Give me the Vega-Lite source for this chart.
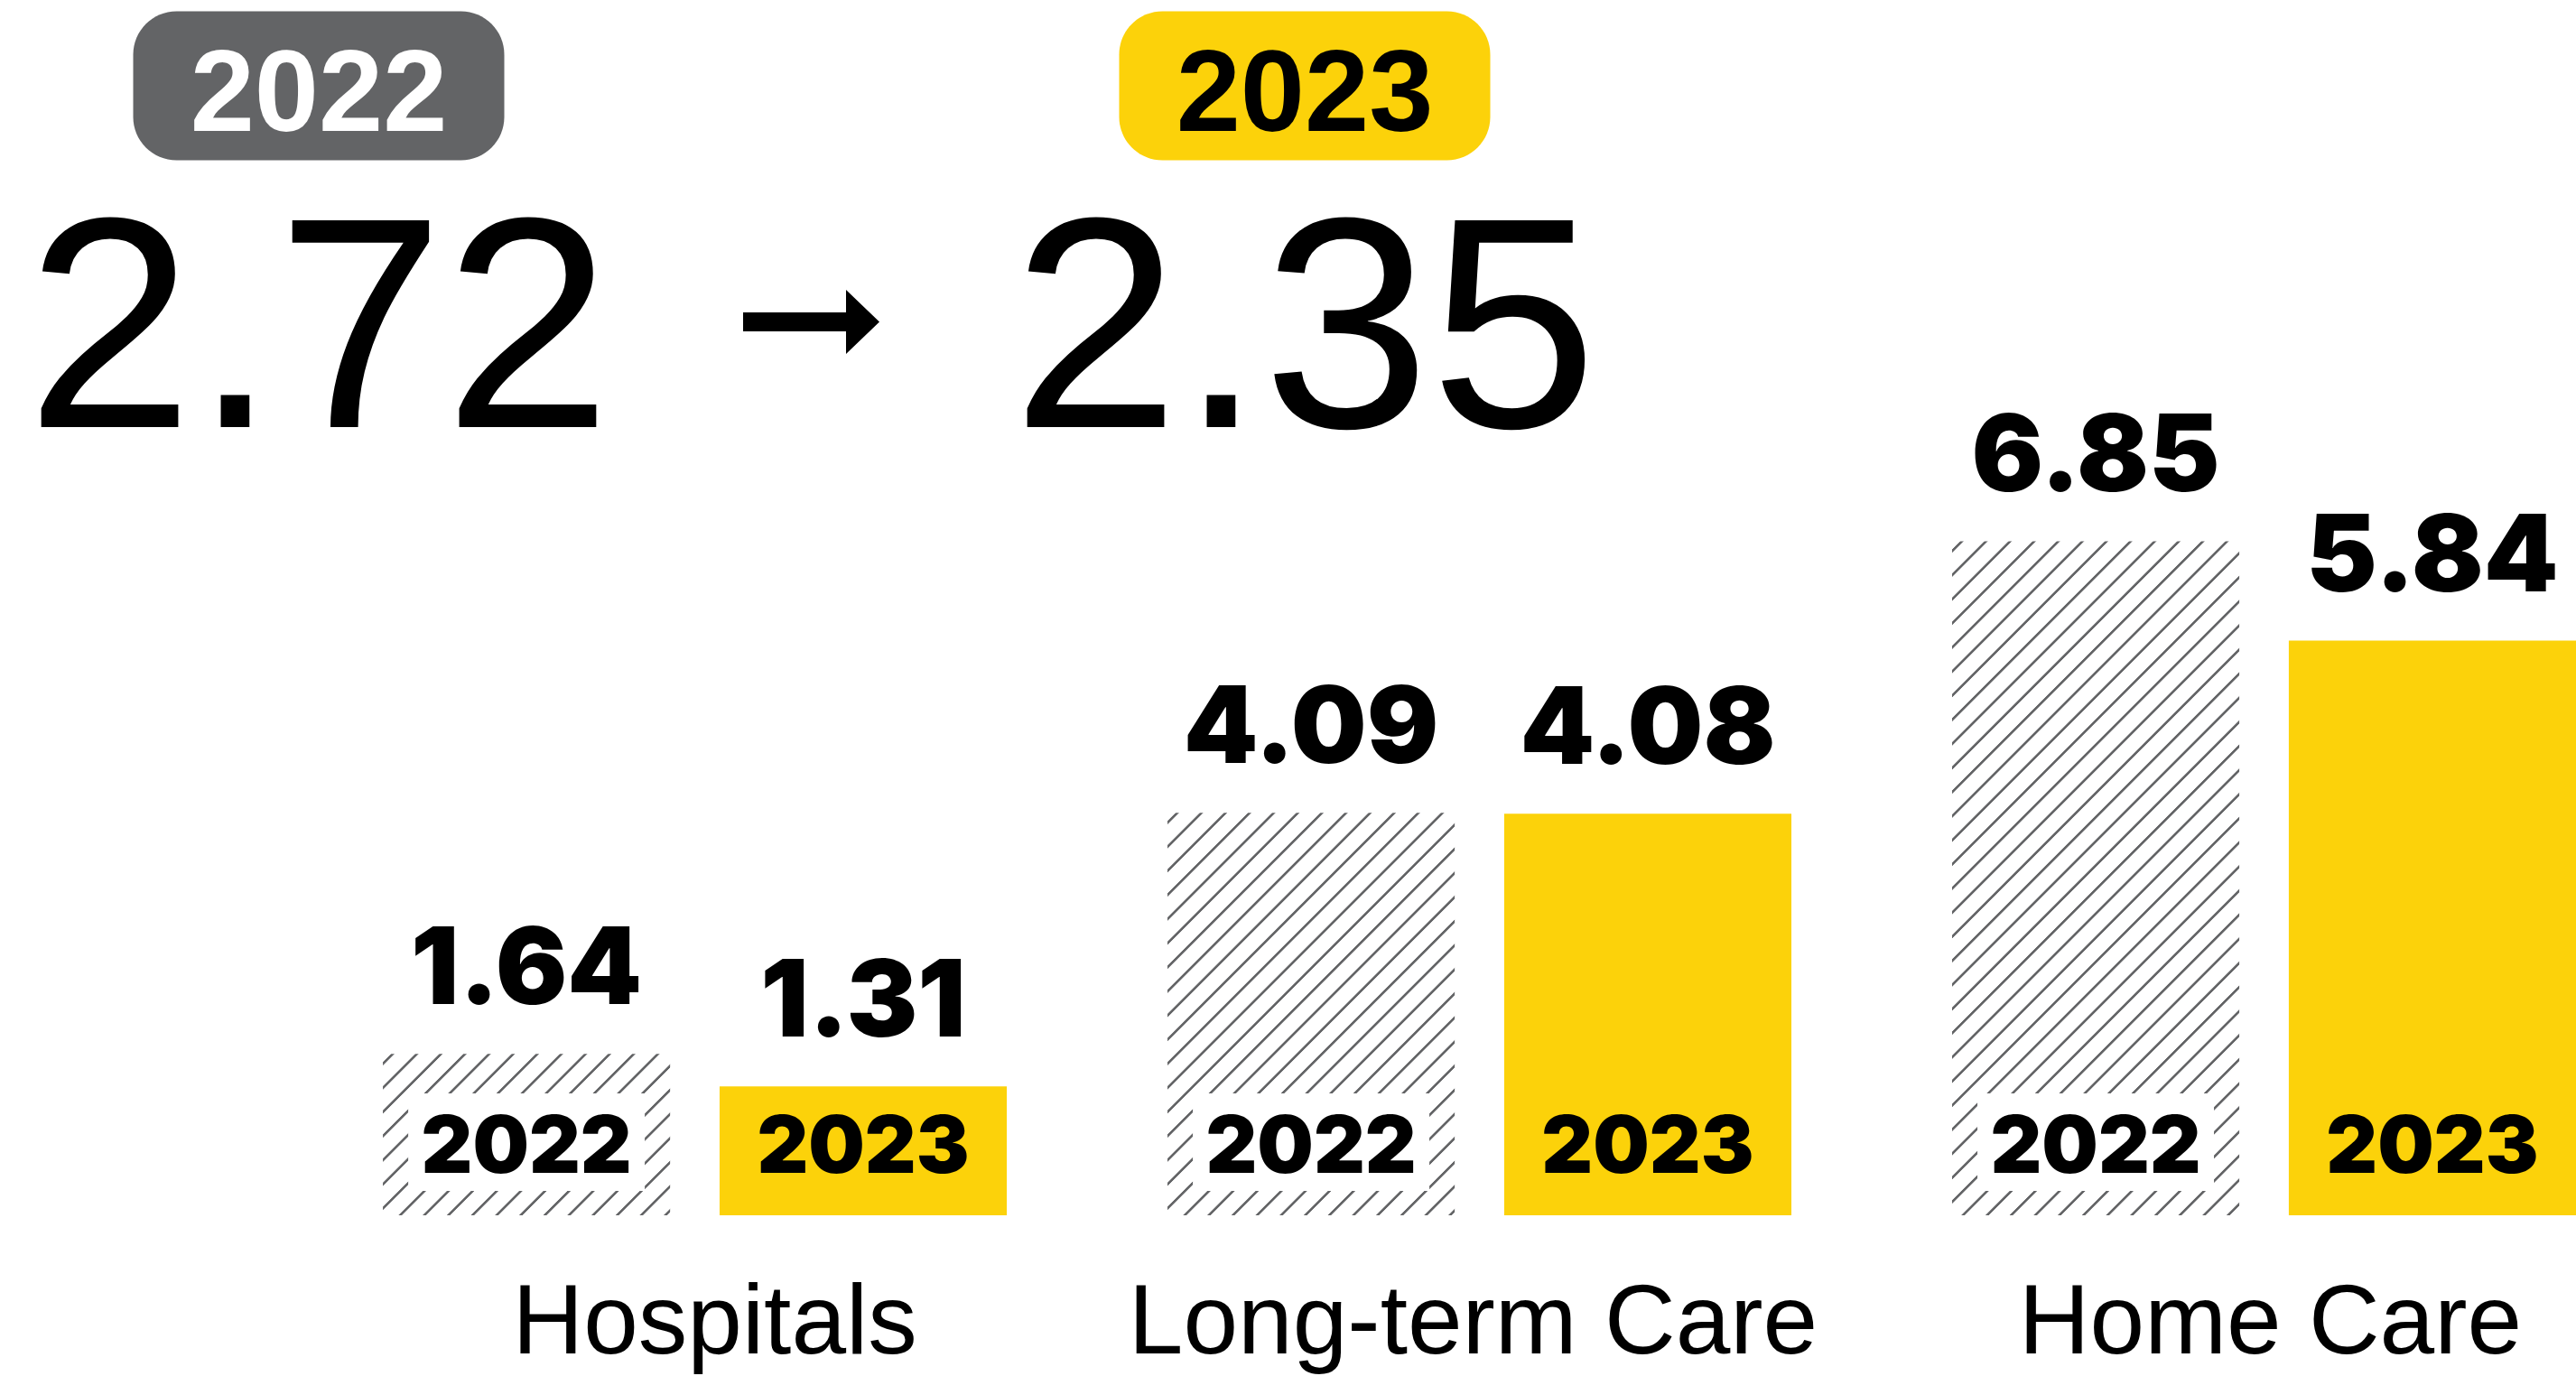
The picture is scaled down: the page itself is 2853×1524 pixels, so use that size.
{
  "$schema": "https://vega.github.io/schema/vega-lite/v6.json",
  "width": 2853,
  "height": 1346,
  "padding": {"left": 0, "top": 0, "right": 0, "bottom": 178},
  "autosize": {"type": "none"},
  "background": "white",
  "config": {"view": {"stroke": null}},
  "datasets": {
    "bars": [
      {"category": "Hospitals", "year": "2022", "value": 1.64},
      {"category": "Hospitals", "year": "2023", "value": 1.31},
      {"category": "Long-term Care", "year": "2022", "value": 4.09},
      {"category": "Long-term Care", "year": "2023", "value": 4.08},
      {"category": "Home Care", "year": "2022", "value": 6.85},
      {"category": "Home Care", "year": "2023", "value": 5.84}
    ],
    "totals": [
      {"year": 2022, "value": 2.72},
      {"year": 2023, "value": 2.35}
    ]
  },
  "resolve": {"scale": {"x": "independent", "y": "independent"}},
  "layer": [
    {
      "data": {"name": "bars"},
      "encoding": {
        "x": {
          "field": "category", "type": "nominal",
          "sort": ["Hospitals", "Long-term Care", "Home Care"],
          "scale": {"paddingInner": 0.2048, "paddingOuter": 0.244, "align": 1},
          "axis": {"title": null, "domain": false, "ticks": false, "grid": false, "labelAngle": 0, "labelFont": "Liberation Sans", "labelFontSize": 109, "labelColor": "#000000", "labelPadding": 66, "labelLimit": 0, "labelOverlap": false,
                   "labelOffset": {"condition": [{"test": "datum.value === 'Hospitals'", "value": 22}, {"test": "datum.value === 'Long-term Care'", "value": -7}], "value": 7}}
        },
        "xOffset": {"field": "year", "type": "nominal", "sort": ["2022", "2023"], "scale": {"paddingInner": 0.147, "paddingOuter": 0}},
        "y": {"field": "value", "type": "quantitative", "scale": {"domain": [0, 12.35], "nice": false, "zero": true}, "axis": null}
      },
      "layer": [
        {
          "transform": [{"filter": "datum.year === '2022' && datum.category === 'Hospitals'"}],
          "mark": {"type": "bar", "fill": {"gradient": "linear", "x1": 0, "y1": 0, "x2": 2.5518, "y2": 1.4338, "stops": [
            {"offset":0.008,"color":"#fff"},{"offset":0.009,"color":"#636466"},{"offset":0.0115,"color":"#636466"},{"offset":0.0125,"color":"#fff"},
            {"offset":0.033,"color":"#fff"},{"offset":0.034,"color":"#636466"},{"offset":0.0365,"color":"#636466"},{"offset":0.0375,"color":"#fff"},
            {"offset":0.058,"color":"#fff"},{"offset":0.059,"color":"#636466"},{"offset":0.0615,"color":"#636466"},{"offset":0.0625,"color":"#fff"},
            {"offset":0.083,"color":"#fff"},{"offset":0.084,"color":"#636466"},{"offset":0.0865,"color":"#636466"},{"offset":0.0875,"color":"#fff"},
            {"offset":0.108,"color":"#fff"},{"offset":0.109,"color":"#636466"},{"offset":0.1115,"color":"#636466"},{"offset":0.1125,"color":"#fff"},
            {"offset":0.133,"color":"#fff"},{"offset":0.134,"color":"#636466"},{"offset":0.1365,"color":"#636466"},{"offset":0.1375,"color":"#fff"},
            {"offset":0.158,"color":"#fff"},{"offset":0.159,"color":"#636466"},{"offset":0.1615,"color":"#636466"},{"offset":0.1625,"color":"#fff"},
            {"offset":0.183,"color":"#fff"},{"offset":0.184,"color":"#636466"},{"offset":0.1865,"color":"#636466"},{"offset":0.1875,"color":"#fff"},
            {"offset":0.208,"color":"#fff"},{"offset":0.209,"color":"#636466"},{"offset":0.2115,"color":"#636466"},{"offset":0.2125,"color":"#fff"},
            {"offset":0.233,"color":"#fff"},{"offset":0.234,"color":"#636466"},{"offset":0.2365,"color":"#636466"},{"offset":0.2375,"color":"#fff"},
            {"offset":0.258,"color":"#fff"},{"offset":0.259,"color":"#636466"},{"offset":0.2615,"color":"#636466"},{"offset":0.2625,"color":"#fff"},
            {"offset":0.283,"color":"#fff"},{"offset":0.284,"color":"#636466"},{"offset":0.2865,"color":"#636466"},{"offset":0.2875,"color":"#fff"},
            {"offset":0.308,"color":"#fff"},{"offset":0.309,"color":"#636466"},{"offset":0.3115,"color":"#636466"},{"offset":0.3125,"color":"#fff"},
            {"offset":0.333,"color":"#fff"},{"offset":0.334,"color":"#636466"},{"offset":0.3365,"color":"#636466"},{"offset":0.3375,"color":"#fff"},
            {"offset":0.358,"color":"#fff"},{"offset":0.359,"color":"#636466"},{"offset":0.3615,"color":"#636466"},{"offset":0.3625,"color":"#fff"},
            {"offset":0.383,"color":"#fff"},{"offset":0.384,"color":"#636466"},{"offset":0.3865,"color":"#636466"},{"offset":0.3875,"color":"#fff"},
            {"offset":0.408,"color":"#fff"},{"offset":0.409,"color":"#636466"},{"offset":0.4115,"color":"#636466"},{"offset":0.4125,"color":"#fff"},
            {"offset":0.433,"color":"#fff"},{"offset":0.434,"color":"#636466"},{"offset":0.4365,"color":"#636466"},{"offset":0.4375,"color":"#fff"},
            {"offset":0.458,"color":"#fff"},{"offset":0.459,"color":"#636466"},{"offset":0.4615,"color":"#636466"},{"offset":0.4625,"color":"#fff"}
          ]}}
        },
        {
          "transform": [{"filter": "datum.year === '2022' && datum.category === 'Long-term Care'"}],
          "mark": {"type": "bar", "fill": {"gradient": "linear", "x1": 0, "y1": 0, "x2": 1.1328, "y2": 1.5875, "stops": [
            {"offset":0.008,"color":"#fff"},{"offset":0.009,"color":"#636466"},{"offset":0.0115,"color":"#636466"},{"offset":0.0125,"color":"#fff"},
            {"offset":0.033,"color":"#fff"},{"offset":0.034,"color":"#636466"},{"offset":0.0365,"color":"#636466"},{"offset":0.0375,"color":"#fff"},
            {"offset":0.058,"color":"#fff"},{"offset":0.059,"color":"#636466"},{"offset":0.0615,"color":"#636466"},{"offset":0.0625,"color":"#fff"},
            {"offset":0.083,"color":"#fff"},{"offset":0.084,"color":"#636466"},{"offset":0.0865,"color":"#636466"},{"offset":0.0875,"color":"#fff"},
            {"offset":0.108,"color":"#fff"},{"offset":0.109,"color":"#636466"},{"offset":0.1115,"color":"#636466"},{"offset":0.1125,"color":"#fff"},
            {"offset":0.133,"color":"#fff"},{"offset":0.134,"color":"#636466"},{"offset":0.1365,"color":"#636466"},{"offset":0.1375,"color":"#fff"},
            {"offset":0.158,"color":"#fff"},{"offset":0.159,"color":"#636466"},{"offset":0.1615,"color":"#636466"},{"offset":0.1625,"color":"#fff"},
            {"offset":0.183,"color":"#fff"},{"offset":0.184,"color":"#636466"},{"offset":0.1865,"color":"#636466"},{"offset":0.1875,"color":"#fff"},
            {"offset":0.208,"color":"#fff"},{"offset":0.209,"color":"#636466"},{"offset":0.2115,"color":"#636466"},{"offset":0.2125,"color":"#fff"},
            {"offset":0.233,"color":"#fff"},{"offset":0.234,"color":"#636466"},{"offset":0.2365,"color":"#636466"},{"offset":0.2375,"color":"#fff"},
            {"offset":0.258,"color":"#fff"},{"offset":0.259,"color":"#636466"},{"offset":0.2615,"color":"#636466"},{"offset":0.2625,"color":"#fff"},
            {"offset":0.283,"color":"#fff"},{"offset":0.284,"color":"#636466"},{"offset":0.2865,"color":"#636466"},{"offset":0.2875,"color":"#fff"},
            {"offset":0.308,"color":"#fff"},{"offset":0.309,"color":"#636466"},{"offset":0.3115,"color":"#636466"},{"offset":0.3125,"color":"#fff"},
            {"offset":0.333,"color":"#fff"},{"offset":0.334,"color":"#636466"},{"offset":0.3365,"color":"#636466"},{"offset":0.3375,"color":"#fff"},
            {"offset":0.358,"color":"#fff"},{"offset":0.359,"color":"#636466"},{"offset":0.3615,"color":"#636466"},{"offset":0.3625,"color":"#fff"},
            {"offset":0.383,"color":"#fff"},{"offset":0.384,"color":"#636466"},{"offset":0.3865,"color":"#636466"},{"offset":0.3875,"color":"#fff"},
            {"offset":0.408,"color":"#fff"},{"offset":0.409,"color":"#636466"},{"offset":0.4115,"color":"#636466"},{"offset":0.4125,"color":"#fff"},
            {"offset":0.433,"color":"#fff"},{"offset":0.434,"color":"#636466"},{"offset":0.4365,"color":"#636466"},{"offset":0.4375,"color":"#fff"},
            {"offset":0.458,"color":"#fff"},{"offset":0.459,"color":"#636466"},{"offset":0.4615,"color":"#636466"},{"offset":0.4625,"color":"#fff"},
            {"offset":0.483,"color":"#fff"},{"offset":0.484,"color":"#636466"},{"offset":0.4865,"color":"#636466"},{"offset":0.4875,"color":"#fff"},
            {"offset":0.508,"color":"#fff"},{"offset":0.509,"color":"#636466"},{"offset":0.5115,"color":"#636466"},{"offset":0.5125,"color":"#fff"},
            {"offset":0.533,"color":"#fff"},{"offset":0.534,"color":"#636466"},{"offset":0.5365,"color":"#636466"},{"offset":0.5375,"color":"#fff"},
            {"offset":0.558,"color":"#fff"},{"offset":0.559,"color":"#636466"},{"offset":0.5615,"color":"#636466"},{"offset":0.5625,"color":"#fff"},
            {"offset":0.583,"color":"#fff"},{"offset":0.584,"color":"#636466"},{"offset":0.5865,"color":"#636466"},{"offset":0.5875,"color":"#fff"},
            {"offset":0.608,"color":"#fff"},{"offset":0.609,"color":"#636466"},{"offset":0.6115,"color":"#636466"},{"offset":0.6125,"color":"#fff"},
            {"offset":0.633,"color":"#fff"},{"offset":0.634,"color":"#636466"},{"offset":0.6365,"color":"#636466"},{"offset":0.6375,"color":"#fff"},
            {"offset":0.658,"color":"#fff"},{"offset":0.659,"color":"#636466"},{"offset":0.6615,"color":"#636466"},{"offset":0.6625,"color":"#fff"},
            {"offset":0.683,"color":"#fff"},{"offset":0.684,"color":"#636466"},{"offset":0.6865,"color":"#636466"},{"offset":0.6875,"color":"#fff"},
            {"offset":0.708,"color":"#fff"},{"offset":0.709,"color":"#636466"},{"offset":0.7115,"color":"#636466"},{"offset":0.7125,"color":"#fff"}
          ]}}
        },
        {
          "transform": [{"filter": "datum.year === '2022' && datum.category === 'Home Care'"}],
          "mark": {"type": "bar", "fill": {"gradient": "linear", "x1": 0, "y1": 0, "x2": 0.5159, "y2": 1.2107, "stops": [
            {"offset":0.008,"color":"#fff"},{"offset":0.009,"color":"#636466"},{"offset":0.0115,"color":"#636466"},{"offset":0.0125,"color":"#fff"},
            {"offset":0.033,"color":"#fff"},{"offset":0.034,"color":"#636466"},{"offset":0.0365,"color":"#636466"},{"offset":0.0375,"color":"#fff"},
            {"offset":0.058,"color":"#fff"},{"offset":0.059,"color":"#636466"},{"offset":0.0615,"color":"#636466"},{"offset":0.0625,"color":"#fff"},
            {"offset":0.083,"color":"#fff"},{"offset":0.084,"color":"#636466"},{"offset":0.0865,"color":"#636466"},{"offset":0.0875,"color":"#fff"},
            {"offset":0.108,"color":"#fff"},{"offset":0.109,"color":"#636466"},{"offset":0.1115,"color":"#636466"},{"offset":0.1125,"color":"#fff"},
            {"offset":0.133,"color":"#fff"},{"offset":0.134,"color":"#636466"},{"offset":0.1365,"color":"#636466"},{"offset":0.1375,"color":"#fff"},
            {"offset":0.158,"color":"#fff"},{"offset":0.159,"color":"#636466"},{"offset":0.1615,"color":"#636466"},{"offset":0.1625,"color":"#fff"},
            {"offset":0.183,"color":"#fff"},{"offset":0.184,"color":"#636466"},{"offset":0.1865,"color":"#636466"},{"offset":0.1875,"color":"#fff"},
            {"offset":0.208,"color":"#fff"},{"offset":0.209,"color":"#636466"},{"offset":0.2115,"color":"#636466"},{"offset":0.2125,"color":"#fff"},
            {"offset":0.233,"color":"#fff"},{"offset":0.234,"color":"#636466"},{"offset":0.2365,"color":"#636466"},{"offset":0.2375,"color":"#fff"},
            {"offset":0.258,"color":"#fff"},{"offset":0.259,"color":"#636466"},{"offset":0.2615,"color":"#636466"},{"offset":0.2625,"color":"#fff"},
            {"offset":0.283,"color":"#fff"},{"offset":0.284,"color":"#636466"},{"offset":0.2865,"color":"#636466"},{"offset":0.2875,"color":"#fff"},
            {"offset":0.308,"color":"#fff"},{"offset":0.309,"color":"#636466"},{"offset":0.3115,"color":"#636466"},{"offset":0.3125,"color":"#fff"},
            {"offset":0.333,"color":"#fff"},{"offset":0.334,"color":"#636466"},{"offset":0.3365,"color":"#636466"},{"offset":0.3375,"color":"#fff"},
            {"offset":0.358,"color":"#fff"},{"offset":0.359,"color":"#636466"},{"offset":0.3615,"color":"#636466"},{"offset":0.3625,"color":"#fff"},
            {"offset":0.383,"color":"#fff"},{"offset":0.384,"color":"#636466"},{"offset":0.3865,"color":"#636466"},{"offset":0.3875,"color":"#fff"},
            {"offset":0.408,"color":"#fff"},{"offset":0.409,"color":"#636466"},{"offset":0.4115,"color":"#636466"},{"offset":0.4125,"color":"#fff"},
            {"offset":0.433,"color":"#fff"},{"offset":0.434,"color":"#636466"},{"offset":0.4365,"color":"#636466"},{"offset":0.4375,"color":"#fff"},
            {"offset":0.458,"color":"#fff"},{"offset":0.459,"color":"#636466"},{"offset":0.4615,"color":"#636466"},{"offset":0.4625,"color":"#fff"},
            {"offset":0.483,"color":"#fff"},{"offset":0.484,"color":"#636466"},{"offset":0.4865,"color":"#636466"},{"offset":0.4875,"color":"#fff"},
            {"offset":0.508,"color":"#fff"},{"offset":0.509,"color":"#636466"},{"offset":0.5115,"color":"#636466"},{"offset":0.5125,"color":"#fff"},
            {"offset":0.533,"color":"#fff"},{"offset":0.534,"color":"#636466"},{"offset":0.5365,"color":"#636466"},{"offset":0.5375,"color":"#fff"},
            {"offset":0.558,"color":"#fff"},{"offset":0.559,"color":"#636466"},{"offset":0.5615,"color":"#636466"},{"offset":0.5625,"color":"#fff"},
            {"offset":0.583,"color":"#fff"},{"offset":0.584,"color":"#636466"},{"offset":0.5865,"color":"#636466"},{"offset":0.5875,"color":"#fff"},
            {"offset":0.608,"color":"#fff"},{"offset":0.609,"color":"#636466"},{"offset":0.6115,"color":"#636466"},{"offset":0.6125,"color":"#fff"},
            {"offset":0.633,"color":"#fff"},{"offset":0.634,"color":"#636466"},{"offset":0.6365,"color":"#636466"},{"offset":0.6375,"color":"#fff"},
            {"offset":0.658,"color":"#fff"},{"offset":0.659,"color":"#636466"},{"offset":0.6615,"color":"#636466"},{"offset":0.6625,"color":"#fff"},
            {"offset":0.683,"color":"#fff"},{"offset":0.684,"color":"#636466"},{"offset":0.6865,"color":"#636466"},{"offset":0.6875,"color":"#fff"},
            {"offset":0.708,"color":"#fff"},{"offset":0.709,"color":"#636466"},{"offset":0.7115,"color":"#636466"},{"offset":0.7125,"color":"#fff"},
            {"offset":0.733,"color":"#fff"},{"offset":0.734,"color":"#636466"},{"offset":0.7365,"color":"#636466"},{"offset":0.7375,"color":"#fff"},
            {"offset":0.758,"color":"#fff"},{"offset":0.759,"color":"#636466"},{"offset":0.7615,"color":"#636466"},{"offset":0.7625,"color":"#fff"},
            {"offset":0.783,"color":"#fff"},{"offset":0.784,"color":"#636466"},{"offset":0.7865,"color":"#636466"},{"offset":0.7875,"color":"#fff"},
            {"offset":0.808,"color":"#fff"},{"offset":0.809,"color":"#636466"},{"offset":0.8115,"color":"#636466"},{"offset":0.8125,"color":"#fff"},
            {"offset":0.833,"color":"#fff"},{"offset":0.834,"color":"#636466"},{"offset":0.8365,"color":"#636466"},{"offset":0.8375,"color":"#fff"},
            {"offset":0.858,"color":"#fff"},{"offset":0.859,"color":"#636466"},{"offset":0.8615,"color":"#636466"},{"offset":0.8625,"color":"#fff"},
            {"offset":0.883,"color":"#fff"},{"offset":0.884,"color":"#636466"},{"offset":0.8865,"color":"#636466"},{"offset":0.8875,"color":"#fff"},
            {"offset":0.908,"color":"#fff"},{"offset":0.909,"color":"#636466"},{"offset":0.9115,"color":"#636466"},{"offset":0.9125,"color":"#fff"},
            {"offset":0.933,"color":"#fff"},{"offset":0.934,"color":"#636466"},{"offset":0.9365,"color":"#636466"},{"offset":0.9375,"color":"#fff"},
            {"offset":0.958,"color":"#fff"},{"offset":0.959,"color":"#636466"},{"offset":0.9615,"color":"#636466"},{"offset":0.9625,"color":"#fff"},
            {"offset":0.983,"color":"#fff"},{"offset":0.984,"color":"#636466"},{"offset":0.9865,"color":"#636466"},{"offset":0.9875,"color":"#fff"}
          ]}}
        },
        {
          "transform": [{"filter": "datum.year === '2023'"}],
          "mark": {"type": "bar", "color": "#FCD20A"}
        },
        {
          "transform": [{"filter": "datum.year === '2022'"}],
          "mark": {"type": "point", "filled": true, "fill": "#ffffff", "opacity": 1, "strokeWidth": 0, "size": 4, "shape": "M-131,-135L131,-135L131,-27L-131,-27Z"},
          "encoding": {"y": {"datum": 0, "type": "quantitative"}}
        },
        {
          "mark": {"type": "text", "font": "Inter", "fontWeight": 900, "fontSize": 88, "baseline": "alphabetic", "align": "center", "dy": -47, "color": "#000000"},
          "encoding": {"y": {"datum": 0, "type": "quantitative"}, "text": {"field": "year", "type": "nominal"}}
        },
        {
          "mark": {"type": "text", "font": "Inter", "fontWeight": 900, "fontSize": 118, "baseline": "alphabetic", "align": "center", "dy": -55, "color": "#000000"},
          "encoding": {"text": {"field": "value", "type": "quantitative", "format": ".2f"}}
        }
      ]
    },
    {
      "data": {"name": "totals"},
      "encoding": {
        "x": {"field": "year", "type": "quantitative", "scale": {"domain": [2022, 2023], "range": [353, 1445], "nice": false, "zero": false}, "axis": null}
      },
      "layer": [
        {
          "mark": {"type": "point", "filled": true, "opacity": 1, "strokeWidth": 0, "size": 4, "shape": "M-157.5,-82.5L157.5,-82.5C184,-82.5,205.5,-61,205.5,-34.5L205.5,34.5C205.5,61,184,82.5,157.5,82.5L-157.5,82.5C-184,82.5,-205.5,61,-205.5,34.5L-205.5,-34.5C-205.5,-61,-184,-82.5,-157.5,-82.5Z"},
          "encoding": {
            "y": {"datum": "badge", "type": "nominal", "scale": {"type": "point", "domain": ["total", "badge"], "range": [473, 95], "padding": 0}, "axis": null},
            "color": {"condition": {"test": "datum.year === 2022", "value": "#636466"}, "value": "#FCD20A"}
          }
        },
        {
          "mark": {"type": "text", "font": "Liberation Sans", "fontWeight": "bold", "fontSize": 128, "baseline": "alphabetic", "align": "center", "dy": 50},
          "encoding": {
            "y": {"datum": "badge", "type": "nominal", "scale": {"type": "point", "domain": ["total", "badge"], "range": [473, 95], "padding": 0}, "axis": null},
            "text": {"field": "year", "type": "quantitative", "format": "d"},
            "color": {"condition": {"test": "datum.year === 2022", "value": "#ffffff"}, "value": "#000000"}
          }
        },
        {
          "mark": {"type": "text", "font": "Liberation Sans", "fontSize": 333, "baseline": "alphabetic", "align": "center", "color": "#000000"},
          "encoding": {
            "y": {"datum": "total", "type": "nominal", "scale": {"type": "point", "domain": ["total", "badge"], "range": [473, 95], "padding": 0}, "axis": null},
            "text": {"field": "value", "type": "quantitative", "format": ".2f"}
          }
        },
        {
          "transform": [{"filter": "datum.year === 2023"}],
          "mark": {"type": "point", "filled": true, "opacity": 1, "strokeWidth": 0, "size": 4, "color": "#000000", "shape": "M-76,-127L38,-127L38,-152L75,-116.5L38,-81L38,-106L-76,-106Z"},
          "encoding": {
            "x": {"datum": 2022.5, "type": "quantitative"},
            "y": {"datum": "total", "type": "nominal", "scale": {"type": "point", "domain": ["total", "badge"], "range": [473, 95], "padding": 0}, "axis": null}
          }
        }
      ]
    }
  ]
}
